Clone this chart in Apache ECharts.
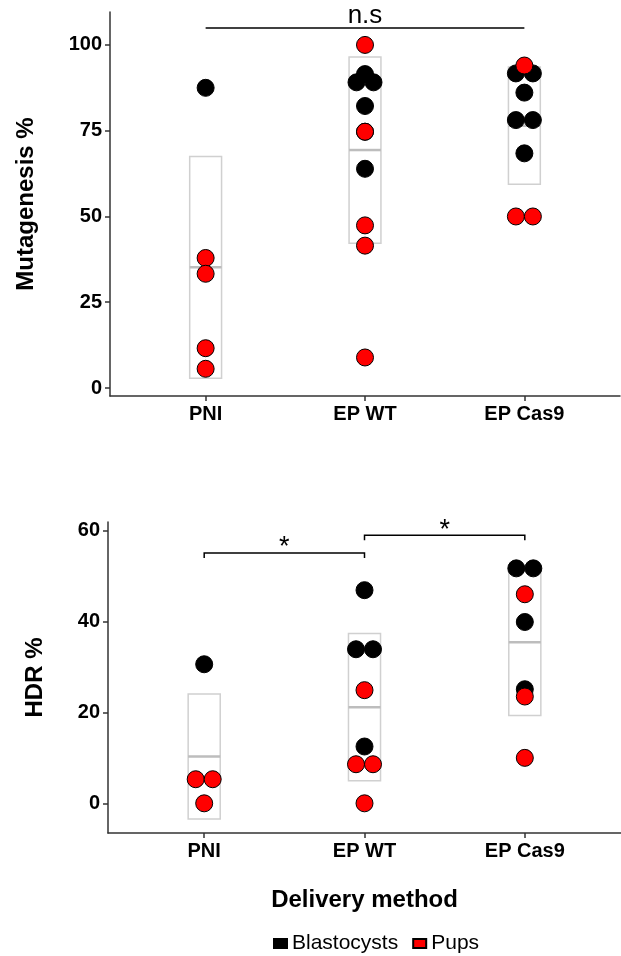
<!DOCTYPE html>
<html><head><meta charset="utf-8">
<script src="https://cdn.jsdelivr.net/npm/echarts@6/dist/echarts.min.js"></script>
<style>html,body{margin:0;padding:0;background:#fff}#c{width:621px;height:956px}</style>
</head><body><div id="c"></div>
<script>
// ---------------- DATA ----------------
const categories = ['PNI', 'EP WT', 'EP Cas9'];
// Mutagenesis % (one inner array per category)
const mutBlastocysts = [[87.5], [91.5, 89.1, 89.1, 82.2, 74.7, 63.9], [91.7, 91.7, 86.1, 78.1, 78.1, 68.4]];
const mutPups = [[37.9, 33.3, 11.6, 5.6], [100, 74.7, 47.4, 41.5, 8.9], [94.0, 50, 50]];
// HDR %
const hdrBlastocysts = [[30.6], [46.9, 33.9, 33.9, 12.5], [51.7, 51.7, 39.9, 25.1]];
const hdrPups = [[5.3, 5.3, 0], [24.9, 8.6, 8.6, 0], [46.0, 23.5, 10.0]];
// tick labels
const mutTicks = [0, 25, 50, 75, 100];
const hdrTicks = [0, 20, 40, 60];
// significance annotations (category numbers 1..3)
const mutSigFrom = [1], mutSigTo = [3], mutSigY = [104.9], mutSigLabel = ['n.s'];
const hdrSigFrom = [1, 2], hdrSigTo = [2, 3], hdrSigY = [55.1, 59.0], hdrSigLabel = ['*', '*'];

// ---------------- HELPERS ----------------
const FONT = 'Liberation Sans, Arial, sans-serif';
const DOT = 17;

function dodged(groups) {
  const out = [];
  groups.forEach((vals, i) => {
    const counts = {};
    vals.forEach(v => { counts[v] = (counts[v] || 0) + 1; });
    const seen = {};
    vals.forEach(v => {
      const k = counts[v];
      const j = seen[v] || 0; seen[v] = j + 1;
      out.push({ value: [i + 1, v], symbolOffset: [(j - (k - 1) / 2) * DOT, 0] });
    });
  });
  return out;
}
function meanSd(a, b) {
  return categories.map((c, i) => {
    const all = a[i].concat(b[i]);
    const n = all.length;
    const m = all.reduce((s, v) => s + v, 0) / n;
    const sd = Math.sqrt(all.reduce((s, v) => s + (v - m) * (v - m), 0) / (n - 1));
    return [i + 1, m, sd];
  });
}
function renderBox(params, api) {
  const x = api.value(0), m = api.value(1), s = api.value(2);
  const w = api.size([0.2, 0])[0];
  const top = api.coord([x, m + s]), bot = api.coord([x, m - s]), mid = api.coord([x, m]);
  return { type: 'group', children: [
    { type: 'rect', shape: { x: top[0] - w / 2, y: top[1], width: w, height: bot[1] - top[1] },
      style: { fill: 'none', stroke: '#d0d0d0', lineWidth: 1.5 } },
    { type: 'line', shape: { x1: mid[0] - w / 2, y1: mid[1], x2: mid[0] + w / 2, y2: mid[1] },
      style: { stroke: '#bdbdbd', lineWidth: 2.5 } }
  ]};
}
function sigRenderer(labels, drop, fontSize, textOff) {
  return function (params, api) {
    const a = api.coord([api.value(0), api.value(2)]);
    const b = api.coord([api.value(1), api.value(2)]);
    const pts = drop > 0 ? [[a[0], a[1] + drop], a, b, [b[0], b[1] + drop]] : [a, b];
    return { type: 'group', children: [
      { type: 'polyline', shape: { points: pts }, style: { fill: 'none', stroke: '#000', lineWidth: 1.5 } },
      { type: 'text', x: (a[0] + b[0]) / 2, y: a[1] - textOff,
        style: { text: labels[params.dataIndex], font: fontSize + 'px ' + FONT, fill: '#000', align: 'center', verticalAlign: 'middle' } }
    ]};
  };
}
function sigData(f, t, y) { return f.map((v, i) => [v, t[i], y[i]]); }

const axisLineStyle = { color: '#333', width: 1.5 };
function xAx(gi, name) {
  return {
    gridIndex: gi, type: 'value', min: 0.4, max: 3.6,
    axisLine: { show: true, onZero: false, lineStyle: axisLineStyle },
    axisTick: { show: true, length: 5, customValues: [1, 2, 3], lineStyle: axisLineStyle },
    axisLabel: { customValues: [1, 2, 3], formatter: v => categories[Math.round(v) - 1],
      color: '#000', fontWeight: 'bold', fontSize: 20, fontFamily: FONT, margin: 8 },
    splitLine: { show: false },
    name: name || '', nameLocation: 'middle', nameGap: 55,
    nameTextStyle: { color: '#000', fontWeight: 'bold', fontSize: 24, fontFamily: FONT }
  };
}
function yAx(gi, min, max, ticks, name, gap) {
  return {
    gridIndex: gi, type: 'value', min: min, max: max,
    axisLine: { show: true, onZero: false, lineStyle: axisLineStyle },
    axisTick: { show: true, length: 5, customValues: ticks, lineStyle: axisLineStyle },
    axisLabel: { customValues: ticks, color: '#000', fontWeight: 'bold', fontSize: 20, fontFamily: FONT, margin: 8 },
    splitLine: { show: false },
    name: name, nameLocation: 'middle', nameGap: gap,
    nameTextStyle: { color: '#000', fontWeight: 'bold', fontSize: 24, fontFamily: FONT }
  };
}
function scatter(name, gi, groups, color) {
  return {
    type: 'scatter', name: name, xAxisIndex: gi, yAxisIndex: gi, data: dodged(groups),
    symbol: 'circle', symbolSize: DOT, z: 5,
    itemStyle: { color: color, borderColor: '#000', borderWidth: 1, opacity: 1 },
    emphasis: { disabled: true }
  };
}

const chart = echarts.init(document.getElementById('c'), null, { renderer: 'canvas' });
chart.setOption({
  animation: false,
  backgroundColor: '#fff',
  grid: [
    { left: 110, top: 12, width: 510, height: 384 },
    { left: 108, top: 522, width: 522, height: 311 }
  ],
  xAxis: [xAx(0), xAx(1, 'Delivery method')],
  yAxis: [
    yAx(0, -2.33, 109.6, mutTicks, 'Mutagenesis %', 72),
    yAx(1, -6.53, 61.9, hdrTicks, 'HDR %', 61)
  ],
  legend: {
    left: 268, top: 928, itemWidth: 13, itemHeight: 9, itemGap: 14, selectedMode: false,
    icon: 'rect',
    textStyle: { color: '#000', fontSize: 21, fontFamily: FONT },
    data: ['Blastocysts', 'Pups']
  },
  series: [
    { type: 'custom', xAxisIndex: 0, yAxisIndex: 0, renderItem: renderBox, data: meanSd(mutBlastocysts, mutPups), z: 1, silent: true },
    { type: 'custom', xAxisIndex: 1, yAxisIndex: 1, renderItem: renderBox, data: meanSd(hdrBlastocysts, hdrPups), z: 1, silent: true },
    scatter('Blastocysts', 0, mutBlastocysts, '#000'),
    scatter('Pups', 0, mutPups, '#ff0000'),
    scatter('Blastocysts', 1, hdrBlastocysts, '#000'),
    scatter('Pups', 1, hdrPups, '#ff0000'),
    { type: 'custom', xAxisIndex: 0, yAxisIndex: 0, renderItem: sigRenderer(mutSigLabel, 0, 26, 12.3),
      data: sigData(mutSigFrom, mutSigTo, mutSigY), z: 6, silent: true, clip: false },
    { type: 'custom', xAxisIndex: 1, yAxisIndex: 1, renderItem: sigRenderer(hdrSigLabel, 5, 27, 5.0),
      data: sigData(hdrSigFrom, hdrSigTo, hdrSigY), z: 6, silent: true, clip: false }
  ]
});
</script></body></html>
